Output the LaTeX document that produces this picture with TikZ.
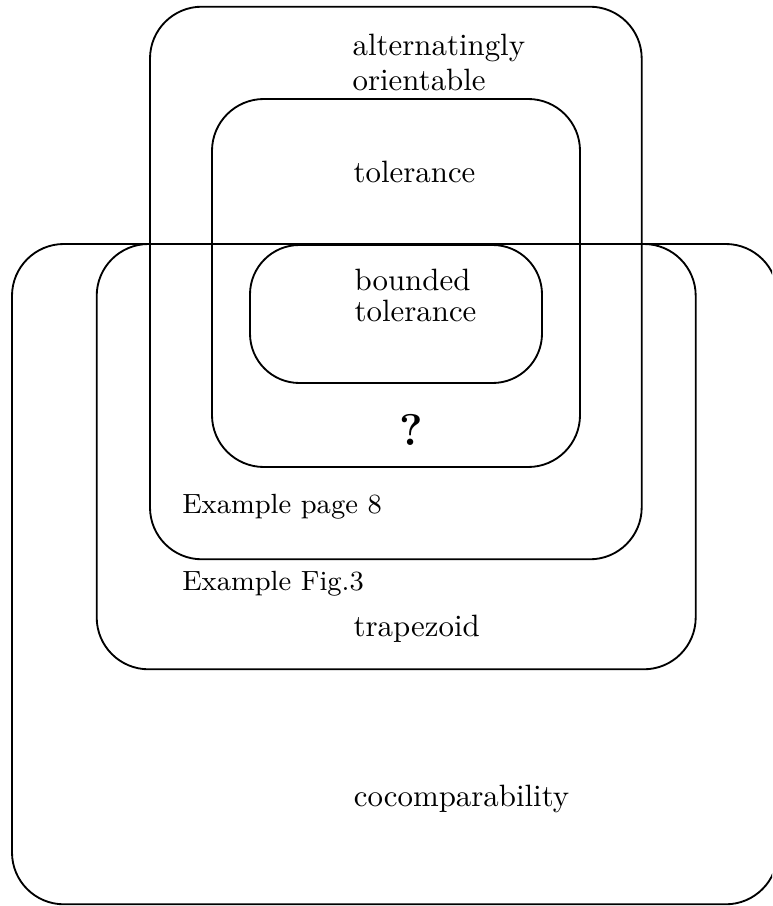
\documentclass[tikz,border=0pt]{standalone}
\begin{document}
\begin{tikzpicture}[x=0.324pt,y=-0.324pt,
  box/.style={line width=0.6pt, rounded corners=16.8pt},
  lbl/.style={anchor=base west, inner sep=0pt, font=\normalsize},
  smalllbl/.style={anchor=base west, inner sep=0pt, font=\small}]
\clip (0,0) rectangle (772,906);
% cocomparability (outer, clipped on the right)
\draw[box] (12,244) rectangle (777.6,904.3);
% trapezoid
\draw[box] (96.7,244) rectangle (695.7,669.3);
% alternatingly orientable
\draw[box] (150,6.7) rectangle (641.7,559.3);
% tolerance
\draw[box] (212,99) rectangle (580,467);
% bounded tolerance
\draw[line width=0.6pt, rounded corners=16pt] (250,245) rectangle (542,383);
% labels
\node[lbl] (alt1) at (352,56) {alternatingly};
\node[lbl] (alt2) at (352,90.5) {orientable};
\node[lbl] (tol) at (353,183) {tolerance};
\node[lbl] (bt1) at (354,291) {bounded};
\node[lbl] (bt2) at (354,321.7) {tolerance};
\node[anchor=base, inner sep=0pt, font=\Large\bfseries] (q) at (411,445) {?};
\node[smalllbl] (ex1) at (181.7,513) {Example page 8};
\node[smalllbl] (ex2) at (181.7,590) {Example Fig.3};
\node[lbl] (trap) at (353,636.7) {trapezoid};
\node[lbl] (coco) at (353.3,806.7) {cocomparability};
\end{tikzpicture}
\end{document}
